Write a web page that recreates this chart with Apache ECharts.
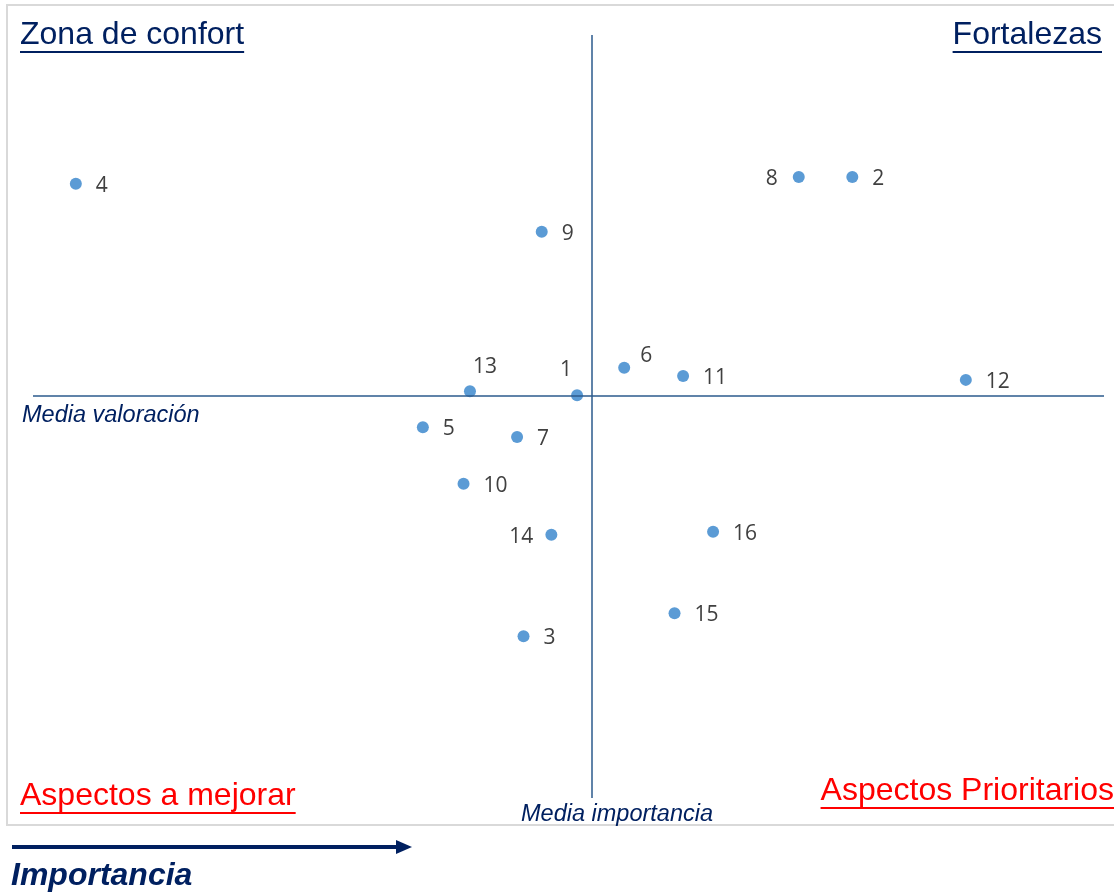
<!DOCTYPE html>
<html>
<head>
<meta charset="utf-8">
<title>Matriz importancia / valoración</title>
<script src="https://cdn.jsdelivr.net/npm/echarts@6/dist/echarts.min.js"></script>
<style>
  html, body { margin: 0; padding: 0; background: #fff; }
  #chart { width: 1114px; height: 893px; }
</style>
</head>
<body>
<div id="chart"></div>
<script>
// aspectos evaluados (numero del aspecto)
var aspectos = ['4', '9', '8', '2', '6', '11', '12', '13', '1', '5', '7', '10', '14', '16', '15', '3'];
// importancia (eje x, 0-100)
var importancia = [4.0, 47.5, 71.5, 76.5, 55.2, 60.7, 87.1, 40.8, 50.8, 36.4, 45.2, 40.2, 48.4, 63.5, 59.9, 45.8];
// valoracion (eje y, 0-100)
var valoracion = [80.5, 74.2, 81.4, 81.4, 56.4, 55.3, 54.8, 53.3, 52.8, 48.6, 47.3, 41.2, 34.5, 34.9, 24.2, 21.2];
// medias
var mediaImportancia = 52.2;
var mediaValoracion = 52.7;

var chart = echarts.init(document.getElementById('chart'));

var labelStyle = {
    '8': { position: 'left', distance: 15, offset: [0, 2] },
    '14': { position: 'left', distance: 12, offset: [0, 2] },
    '13': { position: 'top', distance: 8, offset: [15, 0] },
    '1': { position: 'top', distance: 9, offset: [-11, 0] },
    '6': { position: 'right', distance: 10, offset: [0, -12] }
};

var puntos = aspectos.map(function (a, i) {
    var item = { name: a, value: [importancia[i], valoracion[i]] };
    if (labelStyle[a]) item.label = labelStyle[a];
    return item;
});

var fuenteTitulo = '32px "Liberation Sans", Arial, sans-serif';

function tituloSubrayado(text, x, y, color, align) {
    // texto con linea debajo (echarts no tiene text-decoration)
    var ctx = document.createElement('canvas').getContext('2d');
    ctx.font = fuenteTitulo;
    var w = ctx.measureText(text).width;
    var x0 = align === 'right' ? x - w : x;
    return [{
        type: 'text',
        left: x0, top: y,
        style: { text: text, fill: color, font: fuenteTitulo }
    }, {
        type: 'rect',
        shape: { x: x0, y: y + 32, width: w, height: 2 },
        style: { fill: color }
    }];
}

var graficos = []
    .concat(tituloSubrayado('Zona de confort', 20, 19, '#002060'))
    .concat(tituloSubrayado('Fortalezas', 1102, 19, '#002060', 'right'))
    .concat(tituloSubrayado('Aspectos a mejorar', 20, 780, '#ff0000'))
    .concat(tituloSubrayado('Aspectos Prioritarios', 1114, 775, '#ff0000', 'right'));

graficos.push(
    {
        type: 'rect', z: -1,
        shape: { x: 7, y: 5, width: 1120, height: 820 },
        style: { fill: 'none', stroke: '#d9d9d9', lineWidth: 2 }
    },
    {
        type: 'text', left: 22, top: 404,
        style: { text: 'Media valoración', fill: '#002060', font: 'italic 23.5px "Liberation Sans", Arial, sans-serif' }
    },
    {
        type: 'text', left: 521, top: 803,
        style: { text: 'Media importancia', fill: '#002060', font: 'italic 23.5px "Liberation Sans", Arial, sans-serif' }
    },
    {
        type: 'line',
        shape: { x1: 12, y1: 847, x2: 398, y2: 847 },
        style: { stroke: '#002060', lineWidth: 4 }
    },
    {
        type: 'polygon',
        shape: { points: [[396, 840], [412, 847], [396, 854]] },
        style: { fill: '#002060' }
    },
    {
        type: 'text', left: 11, top: 860,
        style: { text: 'Importancia', fill: '#002060', font: 'italic bold 32px "Liberation Sans", Arial, sans-serif' }
    }
);

var option = {
    animation: false,
    grid: { left: 33, right: 10, top: 35, bottom: 95 },
    xAxis: { type: 'value', min: 0, max: 100, show: false },
    yAxis: { type: 'value', min: 0, max: 100, show: false },
    graphic: graficos,
    series: [{
        type: 'scatter',
        symbolSize: 12,
        itemStyle: { color: '#5b9bd5', opacity: 1 },
        label: {
            show: true,
            position: 'right',
            distance: 14,
            offset: [0, 2],
            formatter: '{b}',
            color: '#404040',
            fontSize: 21,
            fontFamily: '"Open Sans", sans-serif'
        },
        data: puntos,
        markLine: {
            silent: true,
            symbol: 'none',
            label: { show: false },
            lineStyle: { color: '#2b5a8c', type: 'solid', width: 1.5, opacity: 1 },
            data: [
                { xAxis: mediaImportancia },
                { yAxis: mediaValoracion }
            ]
        }
    }]
};

chart.setOption(option);
</script>
</body>
</html>
